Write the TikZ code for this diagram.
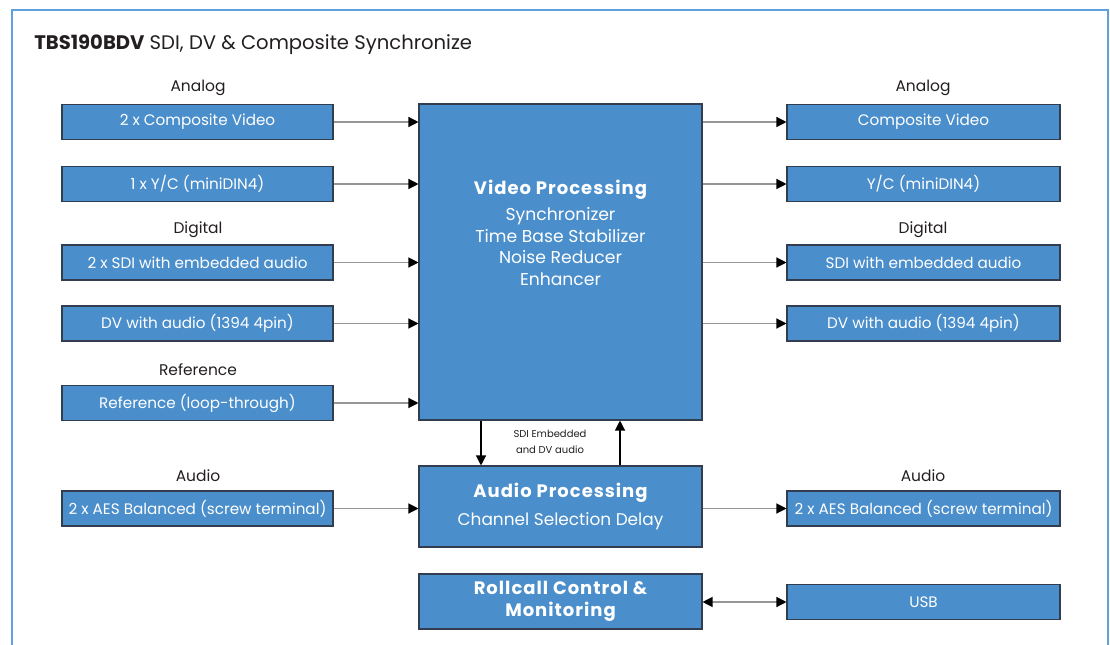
\documentclass[tikz,border=0pt]{standalone}
\usepackage{fontspec}
\setmainfont{Poppins}
\newfontfamily\spbold[LetterSpace=5.5]{Poppins Bold}
\usetikzlibrary{arrows.meta,calc}
\definecolor{boxblue}{RGB}{74,142,203}
\definecolor{boxedge}{RGB}{50,62,80}
\definecolor{frameblue}{RGB}{96,160,220}
\definecolor{linegray}{RGB}{150,150,150}
\definecolor{txtdark}{RGB}{35,31,32}
\tikzset{
  io/.style={draw=boxedge, line width=0.8pt, fill=boxblue, text=white, inner sep=0pt,
    minimum height=26.25pt, font=\fontsize{11.4}{13}\selectfont},
  lio/.style={io, minimum width=203.25pt},
  rio/.style={io, minimum width=204.75pt},
  proc/.style={draw=boxedge, line width=0.8pt, fill=boxblue, text=white, inner sep=0pt,
    minimum width=212.25pt, align=center},
  cat/.style={text=txtdark, font=\fontsize{11.6}{13}\selectfont, inner sep=0pt},
  arr/.style={draw=linegray, line width=0.9pt, -{Triangle[color=black,length=7.5pt,width=7.5pt]}},
  darr/.style={draw=linegray, line width=0.9pt, {Triangle[color=black,length=7.5pt,width=7.5pt]}-{Triangle[color=black,length=7.5pt,width=7.5pt]}},
  varr/.style={draw=black, line width=0.9pt, -{Triangle[length=7.5pt,width=7.5pt]}},
}
\begin{document}
\begin{tikzpicture}[x=0.75pt,y=-0.75pt]
\useasboundingbox (0,0) rectangle (1110,645);
\begin{scope}
\clip (0,0) rectangle (1110,645);
\draw[frameblue, line width=1.6pt] (12,10) rectangle (1108,700);
\end{scope}
% title
\node[anchor=base west, inner sep=0pt, text=txtdark, font=\fontsize{14.7}{17}\selectfont] (title) at (34,50)
  {\textbf{TBS190BDV} SDI, DV \& Composite Synchronize};
% category labels
\node[cat] (catla) at (198,88) {Analog};
\node[cat] (catld) at (198,230) {Digital};
\node[cat] (catlr) at (198,370) {Reference};
\node[cat] (catlu) at (198,476) {Audio};
\node[cat] (catra) at (923,88) {Analog};
\node[cat] (catrd) at (923,230) {Digital};
\node[cat] (catru) at (923,476) {Audio};
% left inputs
\node[lio] (l1) at (197.5,122) {2 x Composite Video};
\node[lio] (l2) at (197.5,184) {1 x Y/C (miniDIN4)};
\node[lio] (l3) at (197.5,262.5) {2 x SDI with embedded audio};
\node[lio] (l4) at (197.5,323.5) {DV with audio (1394 4pin)};
\node[lio] (l5) at (197.5,403) {Reference (loop-through)};
\node[lio] (la) at (197.5,508.5) {2 x AES Balanced (screw terminal)};
% right outputs
\node[rio] (r1) at (923.5,122) {Composite Video};
\node[rio] (r2) at (923.5,184) {Y/C (miniDIN4)};
\node[rio] (r3) at (923.5,262.5) {SDI with embedded audio};
\node[rio] (r4) at (923.5,323.5) {DV with audio (1394 4pin)};
\node[rio] (ra) at (923.5,508.5) {2 x AES Balanced (screw terminal)};
\node[rio] (usb) at (923.5,602) {USB};
% processing
\node[proc, minimum height=237pt] (vp) at (560.5,262) {};
\node[anchor=north, text=white, align=center, inner sep=0pt, font=\fontsize{12.9}{16.1}\selectfont] (vptext) at (560.5,180)
  {{\spbold\fontsize{13.5}{16}\selectfont Video Processing}\\[3.6pt]Synchronizer\\Time Base Stabilizer\\Noise Reducer\\Enhancer};
\node[proc, minimum height=60.75pt, font=\fontsize{12.7}{20.3}\selectfont] (ap) at (560.5,506.5)
  {{\spbold\fontsize{13.5}{20}\selectfont Audio Processing}\\Channel Selection Delay};
\node[proc, minimum height=41.25pt, font=\spbold\fontsize{13.5}{16.5}\selectfont] (rc) at (560.5,601.5)
  {Rollcall Control \&\\Monitoring};
\node[text=txtdark, align=center, inner sep=0pt, font=\fontsize{7.5}{12}\selectfont] (sdilab) at (550,442)
  {SDI Embedded\\and DV audio};
% arrows in
\foreach \n in {l1,l2,l3,l4,l5} \draw[arr] (\n.east) -- (\n.east -| vp.west);
\foreach \n in {r1,r2,r3,r4} \draw[arr] (vp.east |- \n.west) -- (\n.west);
\draw[arr] (la.east) -- (la.east -| ap.west);
\draw[arr] (ap.east |- ra.west) -- (ra.west);
\draw[darr] (rc.east |- usb.west) -- (usb.west);
\coordinate (dx) at (481,0);
\coordinate (ux) at (620,0);
\draw[varr] (vp.south -| dx) -- (ap.north -| dx);
\draw[varr] (ap.north -| ux) -- (vp.south -| ux);
\end{tikzpicture}
\end{document}
